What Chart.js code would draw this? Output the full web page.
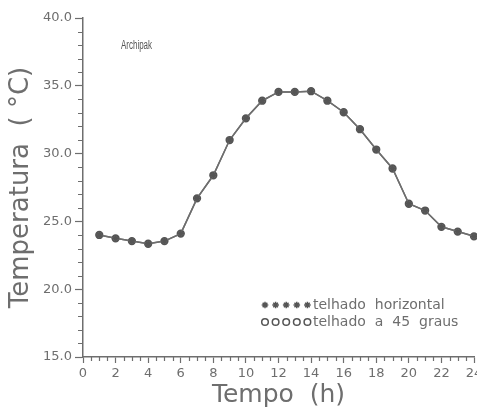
<!DOCTYPE html>
<html>
<head>
<meta charset="utf-8">
<script src="https://cdn.jsdelivr.net/npm/chart.js@4/dist/chart.umd.min.js"></script>
<style>
  html, body { margin: 0; padding: 0; background: #fff; overflow: hidden; }
  canvas { display: block; }
</style>
</head>
<body>
<canvas id="grafico" width="477" height="410"></canvas>
<script>
// Hora do dia (h)
const horas = [1, 2, 3, 4, 5, 6, 7, 8, 9, 10, 11, 12, 13, 14, 15, 16, 17, 18, 19, 20, 21, 22, 23, 24];

// Temperatura (°C) – telhado horizontal
const telhadoHorizontal = [24.0, 23.75, 23.55, 23.35, 23.55, 24.1, 26.7, 28.4, 31.0, 32.6, 33.9, 34.55,
                           34.55, 34.6, 33.9, 33.05, 31.8, 30.3, 28.9, 26.3, 25.8, 24.6, 24.25, 23.9];

// Temperatura (°C) – telhado a 45 graus (as curvas coincidem)
const telhado45 = [24.0, 23.75, 23.55, 23.35, 23.55, 24.1, 26.7, 28.4, 31.0, 32.6, 33.9, 34.55,
                   34.55, 34.6, 33.9, 33.05, 31.8, 30.3, 28.9, 26.3, 25.8, 24.6, 24.25, 23.9];

const ticksTempo = [0, 2, 4, 6, 8, 10, 12, 14, 16, 18, 20, 22, 24];
const ticksTemperatura = [15, 20, 25, 30, 35, 40];
const legendas = ['telhado  horizontal', 'telhado  a  45  graus'];
const rotulo = 'Archipak';

const cinza = '#6e6e6e';
const marca = '#555555';

const pares = (ys) => horas.map((h, i) => ({ x: h, y: ys[i] }));

// Marcas menores dos eixos (meia hora e 1 °C)
const marcasMenores = {
  id: 'marcasMenores',
  afterDraw(chart) {
    const { ctx, scales: { x, y } } = chart;
    ctx.save();
    ctx.strokeStyle = cinza;
    ctx.lineWidth = 1.2;
    ctx.beginPath();
    for (let v = x.min; v <= x.max + 1e-9; v += 0.5) {
      if (v % 2 === 0) continue;
      const px = Math.round(x.getPixelForValue(v)) + 0.5;
      ctx.moveTo(px, x.top);
      ctx.lineTo(px, x.top + 4);
    }
    for (let v = y.min; v <= y.max; v += 1) {
      if (v % 5 === 0) continue;
      const py = Math.round(y.getPixelForValue(v)) + 0.5;
      ctx.moveTo(y.right, py);
      ctx.lineTo(y.right - 5, py);
    }
    ctx.stroke();
    ctx.restore();
  }
};

// Rótulo do programa e legenda dentro da área do gráfico
const anotacoes = {
  id: 'anotacoes',
  afterDraw(chart) {
    const { ctx } = chart;
    ctx.save();
    ctx.fillStyle = '#555555';
    ctx.textBaseline = 'middle';
    ctx.font = '12.5px "Liberation Sans"';
    ctx.fillText(rotulo, 121, 46, 31);

    ctx.font = '14px "DejaVu Sans"';
    chart.data.datasets.forEach((ds, i) => {
      const yLinha = 305 + i * 17;
      ctx.strokeStyle = marca;
      ctx.fillStyle = ds.pointStyle === 'circle' ? '#ffffff' : marca;
      for (let k = 0; k < 5; k++) {
        Chart.helpers.drawPoint(ctx, { pointStyle: ds.pointStyle, radius: 3.3, borderWidth: 1.4, rotation: 0 },
          265 + k * 10.6, yLinha);
      }
      ctx.fillStyle = cinza;
      ctx.fillText(ds.label, 313, yLinha);
    });
    ctx.restore();
  }
};

new Chart(document.getElementById('grafico'), {
  type: 'line',
  data: {
    datasets: [
      {
        label: legendas[0],
        data: pares(telhadoHorizontal),
        borderColor: cinza,
        borderWidth: 1.5,
        pointStyle: 'star',
        pointRadius: 3.4,
        pointBorderWidth: 1.5,
        pointBorderColor: marca,
        pointBackgroundColor: marca,
        tension: 0,
        clip: false
      },
      {
        label: legendas[1],
        data: pares(telhado45),
        borderColor: cinza,
        borderWidth: 1.5,
        pointStyle: 'circle',
        pointRadius: 3.4,
        pointBorderWidth: 1.5,
        pointBorderColor: marca,
        pointBackgroundColor: '#7c7c7c',
        tension: 0,
        clip: false
      }
    ]
  },
  options: {
    responsive: false,
    animation: false,
    events: [],
    layout: { autoPadding: false, padding: { top: 18, right: 3, bottom: 0, left: 0 } },
    plugins: { legend: { display: false }, tooltip: { enabled: false } },
    scales: {
      x: {
        type: 'linear',
        min: 0,
        max: 24,
        afterBuildTicks: (s) => { s.ticks = ticksTempo.map(v => ({ value: v })); },
        afterFit: (s) => { s.height = 53; s.paddingLeft = 0; s.paddingRight = 0; },
        ticks: {
          color: cinza,
          font: { family: 'DejaVu Sans', size: 13 },
          padding: 3,
          maxRotation: 0,
          autoSkip: false,
          callback: (v) => String(v)
        },
        grid: { drawOnChartArea: false, drawTicks: true, tickLength: 6, tickColor: cinza, tickWidth: 1.2 },
        border: { display: true, color: cinza, width: 1.5 },
        title: {
          display: true,
          text: 'Tempo  (h)',
          color: cinza,
          font: { family: 'DejaVu Sans', size: 25 },
          padding: { top: 0, bottom: 0 }
        }
      },
      y: {
        type: 'linear',
        min: 15,
        max: 40,
        afterBuildTicks: (s) => { s.ticks = ticksTemperatura.map(v => ({ value: v })); },
        afterFit: (s) => { s.width = 83; },
        ticks: {
          color: cinza,
          font: { family: 'DejaVu Sans', size: 13 },
          padding: 3,
          callback: (v) => v.toFixed(1)
        },
        grid: { drawOnChartArea: false, drawTicks: true, tickLength: 8, tickColor: cinza, tickWidth: 1.2 },
        border: { display: true, color: cinza, width: 1.5 },
        title: {
          display: true,
          text: 'Temperatura  ( °C)',
          color: cinza,
          font: { family: 'DejaVu Sans', size: 26 },
          padding: { top: 6, bottom: 0 }
        }
      }
    }
  },
  plugins: [marcasMenores, anotacoes]
});
</script>
</body>
</html>
